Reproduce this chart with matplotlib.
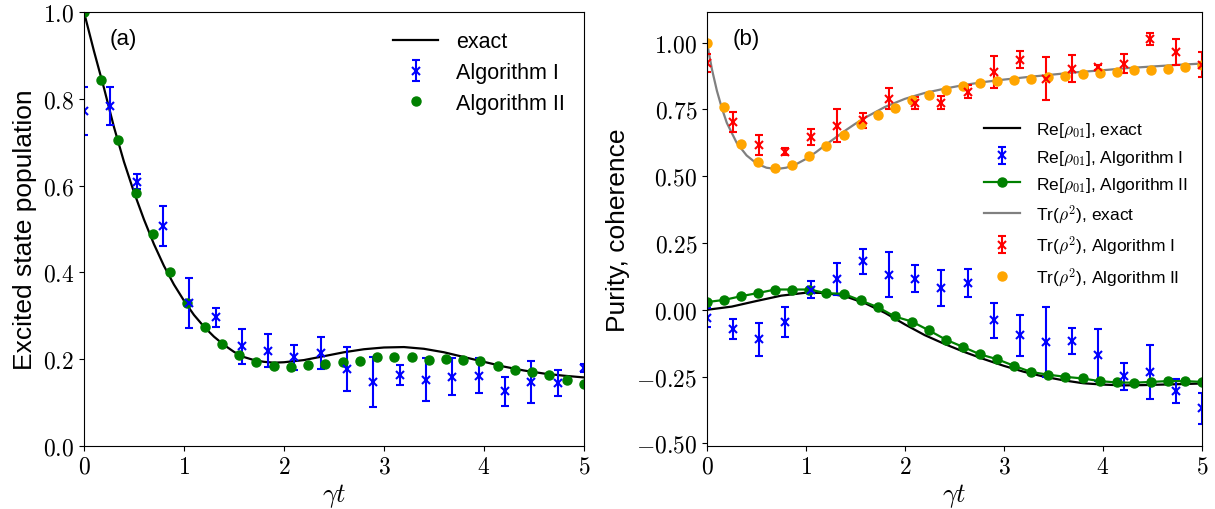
import numpy as np
import matplotlib
matplotlib.use("Agg")
import matplotlib.pyplot as plt

plt.rcParams["font.family"] = ["Liberation Sans", "DejaVu Sans"]
plt.rcParams["mathtext.fontset"] = "cm"

# ---------------- data ----------------
t_alg1 = np.linspace(0, 5, 20)     # Algorithm I time grid
t_alg2 = np.linspace(0, 5, 30)     # Algorithm II time grid

# (a) excited state population
exact_a_t = [0.0, 0.1, 0.2, 0.3, 0.4, 0.5, 0.6, 0.7, 0.8, 0.9, 1.0, 1.1, 1.2,
             1.3, 1.4, 1.5, 1.6, 1.7, 1.8, 1.9, 2.0, 2.2, 2.4, 2.6, 2.8, 3.0,
             3.2, 3.4, 3.6, 3.8, 4.0, 4.2, 4.4, 4.6, 4.8, 5.0]
exact_a_v = [1.0, 0.91, 0.825, 0.735, 0.655, 0.585, 0.522, 0.465, 0.415, 0.372,
             0.335, 0.302, 0.275, 0.252, 0.233, 0.217, 0.205, 0.198, 0.194,
             0.192, 0.193, 0.198, 0.207, 0.216, 0.223, 0.227, 0.228, 0.224,
             0.216, 0.205, 0.194, 0.183, 0.174, 0.167, 0.162, 0.158]
alg1_a = [0.772, 0.783, 0.609, 0.507, 0.329, 0.297, 0.230, 0.220, 0.204, 0.214,
          0.177, 0.147, 0.164, 0.153, 0.160, 0.162, 0.126, 0.147, 0.145, 0.180]
alg1_a_err = [0.056, 0.044, 0.017, 0.047, 0.057, 0.022, 0.040, 0.038, 0.028, 0.037,
              0.050, 0.058, 0.023, 0.050, 0.042, 0.041, 0.033, 0.048, 0.029, 0.010]
alg2_a = [1.0, 0.844, 0.704, 0.583, 0.488, 0.400, 0.329, 0.275, 0.235, 0.209,
          0.194, 0.184, 0.181, 0.187, 0.190, 0.194, 0.197, 0.206, 0.206, 0.204,
          0.198, 0.201, 0.198, 0.196, 0.184, 0.176, 0.171, 0.164, 0.151, 0.144]

# (b) coherence and purity
exact_re_t = [0.0, 0.25, 0.5, 0.75, 1.0, 1.2, 1.4, 1.6, 1.8, 2.0, 2.2, 2.4, 2.6,
              2.8, 3.0, 3.2, 3.4, 3.6, 3.8, 4.0, 4.2, 4.4, 4.6, 4.8, 5.0]
exact_re_v = [0.0, 0.012, 0.033, 0.053, 0.064, 0.063, 0.050, 0.024, -0.012,
              -0.055, -0.095, -0.128, -0.158, -0.185, -0.210, -0.232, -0.250,
              -0.264, -0.275, -0.280, -0.283, -0.282, -0.280, -0.278, -0.276]
alg1_re = [-0.030, -0.071, -0.111, -0.046, 0.076, 0.116, 0.182, 0.132, 0.116, 0.082,
           0.100, -0.040, -0.096, -0.121, -0.118, -0.170, -0.249, -0.233, -0.305, -0.369]
alg1_re_err = [0.035, 0.037, 0.062, 0.055, 0.033, 0.061, 0.047, 0.085, 0.051, 0.068,
               0.052, 0.067, 0.078, 0.130, 0.048, 0.098, 0.051, 0.100, 0.045, 0.059]
alg2_re = [0.029, 0.037, 0.051, 0.063, 0.076, 0.076, 0.076, 0.062, 0.060, 0.035,
           0.010, -0.025, -0.044, -0.077, -0.112, -0.139, -0.167, -0.185, -0.210,
           -0.233, -0.243, -0.251, -0.257, -0.267, -0.272, -0.273, -0.270, -0.267,
           -0.267, -0.270]

exact_pur_t = [0.0, 0.05, 0.1, 0.15, 0.2, 0.3, 0.4, 0.5, 0.6, 0.7, 0.8, 0.9, 1.0,
               1.1, 1.2, 1.3, 1.4, 1.5, 1.6, 1.8, 2.0, 2.2, 2.4, 2.6, 2.8, 3.0,
               3.25, 3.5, 3.75, 4.0, 4.25, 4.5, 4.75, 5.0]
exact_pur_v = [1.0, 0.90, 0.82, 0.755, 0.70, 0.625, 0.578, 0.548, 0.532, 0.527,
               0.532, 0.545, 0.565, 0.590, 0.618, 0.645, 0.672, 0.697, 0.720,
               0.760, 0.790, 0.812, 0.828, 0.842, 0.853, 0.862, 0.872, 0.881,
               0.890, 0.897, 0.905, 0.911, 0.917, 0.922]
alg1_pur = [0.924, 0.703, 0.617, 0.592, 0.647, 0.690, 0.710, 0.791, 0.775, 0.775,
            0.816, 0.889, 0.937, 0.866, 0.903, 0.908, 0.922, 1.015, 0.965, 0.918]
alg1_pur_err = [0.035, 0.037, 0.037, 0.013, 0.030, 0.060, 0.028, 0.039, 0.022, 0.025,
                0.024, 0.060, 0.031, 0.079, 0.051, 0.010, 0.037, 0.022, 0.048, 0.048]
alg2_pur = [1.0, 0.760, 0.622, 0.555, 0.532, 0.542, 0.576, 0.613, 0.654, 0.694,
            0.728, 0.756, 0.785, 0.803, 0.822, 0.838, 0.851, 0.858, 0.862, 0.866,
            0.871, 0.877, 0.884, 0.887, 0.889, 0.896, 0.897, 0.903, 0.908, 0.915]

# ---------------- figure ----------------
fig = plt.figure(figsize=(12.15, 5.1), dpi=100)
axa = fig.add_axes([0.0691, 0.1235, 0.4115, 0.851])
axb = fig.add_axes([0.5819, 0.1235, 0.4074, 0.851])

eb = dict(fmt="x", capsize=3, elinewidth=1.5, markeredgewidth=1.5, ms=6)

# (a)
h1, = axa.plot(exact_a_t, exact_a_v, color="black", lw=1.6, label="exact")
h2 = axa.errorbar(t_alg1, alg1_a, yerr=alg1_a_err, color="blue", label="Algorithm I", **eb)
h3, = axa.plot(t_alg2, alg2_a, "o", color="green", ms=6.5, label="Algorithm II")
axa.set_xlim(0, 5)
axa.set_ylim(0, 1)
axa.legend(handles=[h1, h2, h3], loc="upper right", frameon=False, fontsize=15.5,
           handlelength=2.1, handletextpad=0.8, labelspacing=0.45)
axa.set_ylabel("Excited state population", fontsize=19)
axa.text(0.052, 0.94, "(a)", transform=axa.transAxes, fontsize=16, va="center")

# (b)
g1, = axb.plot(exact_re_t, exact_re_v, color="black", lw=1.6, label=r"Re[$\rho_{01}$], exact")
g2 = axb.errorbar(t_alg1, alg1_re, yerr=alg1_re_err, color="blue",
                  label=r"Re[$\rho_{01}$], Algorithm I", **eb)
g3, = axb.plot(t_alg2, alg2_re, "-o", color="green", ms=6.5, lw=1.6,
               label=r"Re[$\rho_{01}$], Algorithm II")
g4, = axb.plot(exact_pur_t, exact_pur_v, color="gray", lw=1.6, label=r"Tr($\rho^2$), exact")
g5 = axb.errorbar(t_alg1, alg1_pur, yerr=alg1_pur_err, color="red",
                  label=r"Tr($\rho^2$), Algorithm I", **eb)
g6, = axb.plot(t_alg2, alg2_pur, "o", color="orange", ms=6.5, label=r"Tr($\rho^2$), Algorithm II")
axb.set_xlim(0, 5)
axb.set_ylim(-0.51, 1.115)
axb.legend(handles=[g1, g2, g3, g4, g5, g6], loc="upper right",
           bbox_to_anchor=(0.985, 0.765), borderaxespad=0, frameon=False,
           fontsize=12.5, handlelength=2.1, handletextpad=0.9, labelspacing=0.5)
axb.set_ylabel("Purity, coherence", fontsize=19)
axb.text(0.052, 0.94, "(b)", transform=axb.transAxes, fontsize=16, va="center")

# ticks in Computer Modern
for ax, yt, fmt in [(axa, [0.0, 0.2, 0.4, 0.6, 0.8, 1.0], "%.1f"),
                    (axb, [-0.5, -0.25, 0.0, 0.25, 0.5, 0.75, 1.0], "%.2f")]:
    ax.set_xticks(range(6))
    ax.set_xticklabels([r"$%d$" % v for v in range(6)])
    ax.set_yticks(yt)
    ax.set_yticklabels([r"$%s$" % (fmt % v) for v in yt])
    ax.tick_params(labelsize=17)
    ax.set_xlabel(r"$\gamma t$", fontsize=19, labelpad=2)

fig.savefig("out.png", dpi=100)
